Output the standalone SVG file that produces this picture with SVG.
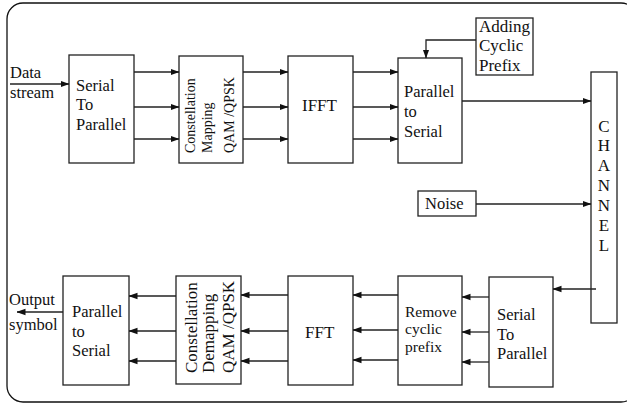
<svg xmlns="http://www.w3.org/2000/svg" width="627" height="405" viewBox="0 0 627 405">
<style>
.b{fill:#fff;stroke:#222;stroke-width:1.3}
.t{font-family:"Liberation Serif","Times New Roman",serif;font-size:16.5px;fill:#111}
.c{stroke:#222;stroke-width:1.3;fill:none}
</style>
<defs>
<marker id="a" markerWidth="9" markerHeight="8" refX="8.5" refY="4" orient="auto" markerUnits="userSpaceOnUse">
<path d="M0,0.8 L9,4 L0,7.2 Z" fill="#111"/>
</marker>
</defs>
<rect x="7" y="3" width="630" height="399" rx="16" fill="#fff" stroke="#111" stroke-width="1.3"/>

<g id="n-sp1"><rect class="b" x="69" y="55" width="65" height="108"/>
<text class="t" x="76" y="91">Serial</text><text class="t" x="76" y="110">To</text><text class="t" x="76" y="130">Parallel</text></g>

<g id="n-map"><rect class="b" x="179" y="56" width="64" height="107"/>
<g class="t" style="font-size:14px">
<text transform="translate(195,153) rotate(-90)">Constellation</text>
<text transform="translate(212,153) rotate(-90)">Mapping</text>
<text transform="translate(234,153) rotate(-90)">QAM /QPSK</text></g></g>

<g id="n-ifft"><rect class="b" x="288" y="56" width="65" height="107"/>
<text class="t" x="302" y="111" style="font-size:17px">IFFT</text></g>

<g id="n-ps1"><rect class="b" x="398" y="58" width="64" height="105"/>
<text class="t" x="404" y="97">Parallel</text><text class="t" x="404" y="117">to</text><text class="t" x="404" y="137">Serial</text></g>

<g id="n-cp"><rect class="b" x="476" y="18" width="57" height="57"/>
<text class="t" x="479" y="32" style="font-size:17px">Adding</text><text class="t" x="479" y="51" style="font-size:17px">Cyclic</text><text class="t" x="479" y="71" style="font-size:17px">Prefix</text></g>

<g id="n-ch"><rect class="b" x="591" y="72" width="26" height="251"/>
<g class="t" style="font-size:17px" text-anchor="middle">
<text x="604" y="132">C</text><text x="604" y="151">H</text><text x="604" y="171">A</text><text x="604" y="191">N</text><text x="604" y="211">N</text><text x="604" y="231">E</text><text x="604" y="251">L</text></g></g>

<g id="n-noise"><rect class="b" x="418" y="191" width="58" height="25"/>
<text class="t" x="425" y="209">Noise</text></g>

<g id="n-sp2"><rect class="b" x="489" y="277" width="64" height="110"/>
<text class="t" x="497" y="320">Serial</text><text class="t" x="497" y="340">To</text><text class="t" x="497" y="359">Parallel</text></g>

<g id="n-rcp"><rect class="b" x="398" y="276" width="64" height="109"/>
<g class="t" style="font-size:15.5px"><text x="405" y="317">Remove</text><text x="405" y="334">cyclic</text><text x="405" y="352">prefix</text></g></g>

<g id="n-fft"><rect class="b" x="288" y="276" width="65" height="109"/>
<text class="t" x="305" y="338" style="font-size:17px">FFT</text></g>

<g id="n-demap"><rect class="b" x="176" y="276" width="65" height="108"/>
<g class="t" style="font-size:17px">
<text transform="translate(197,373) rotate(-90)">Constellation</text>
<text transform="translate(214,373) rotate(-90)">Demapping</text>
<text transform="translate(234,373) rotate(-90)">QAM /QPSK</text></g></g>

<g id="n-ps2"><rect class="b" x="63" y="276" width="66" height="109"/>
<text class="t" x="72" y="317">Parallel</text><text class="t" x="72" y="337">to</text><text class="t" x="72" y="356">Serial</text></g>

<g id="lbl-in"><text class="t" x="10" y="78">Data</text><text class="t" x="10" y="98">stream</text></g>
<g id="lbl-out"><text class="t" x="9" y="305">Output</text><text class="t" x="9" y="330">symbol</text></g>

<g id="connectors" class="c" marker-end="url(#a)">
<line x1="10" y1="84" x2="69" y2="84"/>
<line x1="134" y1="72" x2="179" y2="72"/>
<line x1="134" y1="107" x2="179" y2="107"/>
<line x1="134" y1="139" x2="179" y2="139"/>
<line x1="243" y1="72" x2="288" y2="72"/>
<line x1="243" y1="107" x2="288" y2="107"/>
<line x1="243" y1="139" x2="288" y2="139"/>
<line x1="353" y1="72" x2="398" y2="72"/>
<line x1="353" y1="107" x2="398" y2="107"/>
<line x1="353" y1="139" x2="398" y2="139"/>
<polyline points="476,40 426,40 426,58"/>
<line x1="462" y1="101" x2="591" y2="101"/>
<line x1="476" y1="204" x2="591" y2="204"/>
<line x1="596" y1="289" x2="553" y2="289"/>
<line x1="489" y1="297" x2="462" y2="297"/>
<line x1="489" y1="332" x2="462" y2="332"/>
<line x1="489" y1="362" x2="462" y2="362"/>
<line x1="398" y1="295" x2="353" y2="295"/>
<line x1="398" y1="330" x2="353" y2="330"/>
<line x1="398" y1="360" x2="353" y2="360"/>
<line x1="288" y1="295" x2="241" y2="295"/>
<line x1="288" y1="331" x2="241" y2="331"/>
<line x1="288" y1="361" x2="241" y2="361"/>
<line x1="176" y1="296" x2="129" y2="296"/>
<line x1="176" y1="331" x2="129" y2="331"/>
<line x1="176" y1="361" x2="129" y2="361"/>
<line x1="63" y1="312" x2="17" y2="312"/>
</g>
</svg>
